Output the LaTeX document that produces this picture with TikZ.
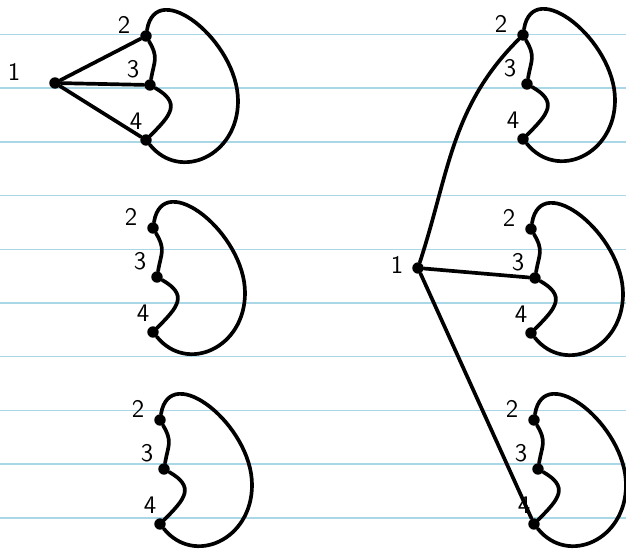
\documentclass[tikz,border=0pt]{standalone}
\definecolor{ruling}{RGB}{170,215,230}
\tikzset{
  vtx/.style={circle,fill,inner sep=0pt,minimum size=6.5pt},
  lbl/.style={font=\sffamily\Large},
  edge/.style={line width=2.1pt,line cap=round},
}
\begin{document}
\begin{tikzpicture}[x=0.02cm,y=-0.02cm]
\useasboundingbox (0,0) rectangle (626,550);
% paper lines
\foreach \k in {0,...,9}
  \draw[ruling,line width=0.9pt] (0,34.5+53.7*\k) -- (626,34.5+53.7*\k);
% the six copies of 2-3-4
\foreach \g/\x/\y in {a/146/36,b/153/228,c/160/420,d/523/35,e/531/229,f/534/420}{
  \begin{scope}[shift={(\x,\y)}]
    \node[vtx] (\g2) at (0,0) {};
    \node[vtx] (\g3) at (4,49) {};
    \node[vtx] (\g4) at (0,104) {};
    \node[lbl] (\g2lab) at (-22,-11) {2};
    \node[lbl] (\g3lab) at (-13,33) {3};
    \node[lbl] (\g4lab) at (-10,85) {4};
    \draw[edge] (\g2) to[out=-60,in=80,looseness=1.3] (\g3);
    \draw[edge] (\g3) to[out=-30,in=45,looseness=1.6] (\g4);
    \draw[edge] (\g2) .. controls +(10,-60) and +(0,-60) .. ++(92,65)
      .. controls +(0,55) and +(34,42) .. (\g4);
  \end{scope}
}
\node[vtx] (p1) at (55,83) {};
\node[lbl] (p1lab) at (14,72) {1};
\node[vtx] (q1) at (418,268) {};
\node[lbl] (q1lab) at (397,265) {1};
\draw[edge] (p1) -- (a2);
\draw[edge] (p1) -- (a3);
\draw[edge] (p1) -- (a4);
\draw[edge] (q1) to[out=72,in=-135] (d2);
\draw[edge] (q1) -- (e3);
\draw[edge] (q1) -- (f4);
\end{tikzpicture}
\end{document}
